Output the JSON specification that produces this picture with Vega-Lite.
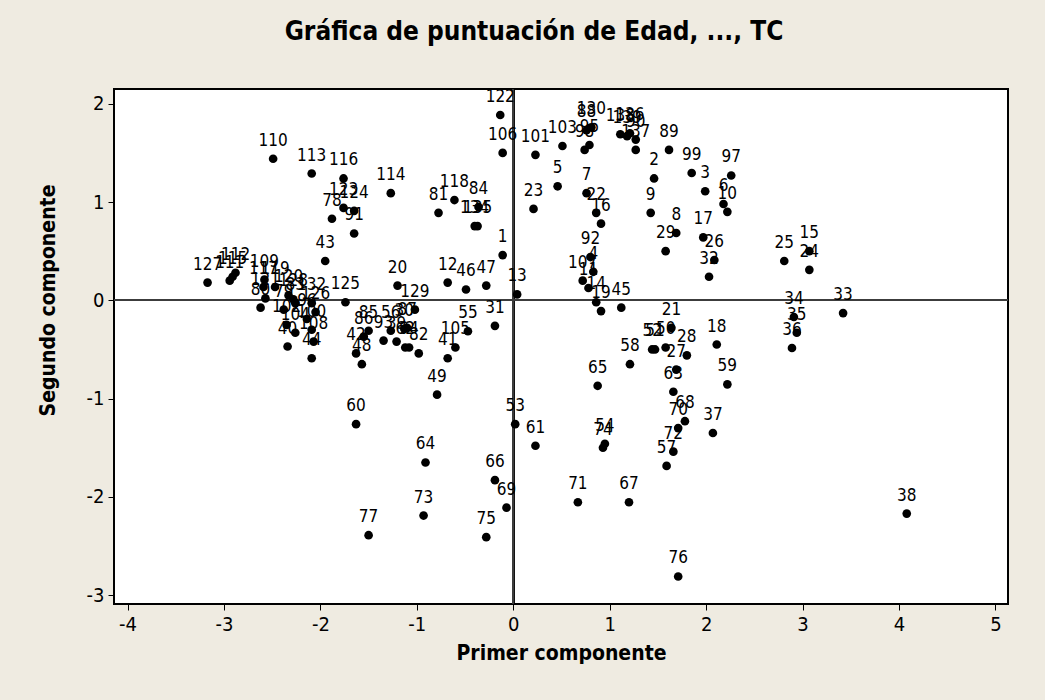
{
  "$schema": "https://vega.github.io/schema/vega-lite/v6.json",
  "width": 894,
  "height": 515,
  "autosize": {"type": "none"},
  "padding": {"left": 114, "top": 89, "right": 37, "bottom": 96},
  "background": "#EFEBE1",
  "title": {
    "text": "Gráfica de puntuación de Edad, ..., TC",
    "font": "DejaVu Sans Condensed, DejaVu Sans",
    "fontSize": 26,
    "fontWeight": "bold",
    "color": "#000000",
    "anchor": "middle",
    "baseline": "alphabetic",
    "offset": 22,
    "dx": -27
  },
  "config": {
    "view": {"stroke": "#000000", "strokeWidth": 2, "fill": "#FFFFFF"},
    "axis": {
      "grid": false,
      "domain": false,
      "tickColor": "#000000",
      "tickSize": 6,
      "tickWidth": 1,
      "labelFont": "DejaVu Sans Condensed, DejaVu Sans",
      "labelFontSize": 20,
      "labelColor": "#000000",
      "labelExpr": "'' + datum.value",
      "titleFont": "DejaVu Sans Condensed, DejaVu Sans",
      "titleFontSize": 21,
      "titleFontWeight": "bold",
      "titleColor": "#000000"
    }
  },
  "data": {
    "values": [
      {"id": "110", "x": -2.49, "y": 1.44},
      {"id": "113", "x": -2.09, "y": 1.29},
      {"id": "116", "x": -1.76, "y": 1.24},
      {"id": "114", "x": -1.27, "y": 1.09},
      {"id": "123", "x": -1.76, "y": 0.94},
      {"id": "124", "x": -1.65, "y": 0.91},
      {"id": "78", "x": -1.88, "y": 0.83},
      {"id": "91", "x": -1.65, "y": 0.68},
      {"id": "43", "x": -1.95, "y": 0.40},
      {"id": "127", "x": -3.17, "y": 0.18},
      {"id": "111", "x": -2.94, "y": 0.20},
      {"id": "115", "x": -2.91, "y": 0.24},
      {"id": "112", "x": -2.88, "y": 0.28},
      {"id": "109", "x": -2.58, "y": 0.21},
      {"id": "117", "x": -2.59, "y": 0.135},
      {"id": "121", "x": -2.57, "y": 0.02},
      {"id": "80", "x": -2.62, "y": -0.075},
      {"id": "119", "x": -2.47, "y": 0.135},
      {"id": "120", "x": -2.33, "y": 0.05},
      {"id": "128", "x": -2.28, "y": 0.01},
      {"id": "83", "x": -2.26, "y": -0.03},
      {"id": "79", "x": -2.38, "y": -0.095},
      {"id": "132", "x": -2.09, "y": -0.03},
      {"id": "126", "x": -2.05, "y": -0.12},
      {"id": "102", "x": -2.35, "y": -0.25},
      {"id": "104", "x": -2.26, "y": -0.33},
      {"id": "96", "x": -2.14, "y": -0.19},
      {"id": "100", "x": -2.09, "y": -0.30},
      {"id": "108", "x": -2.07, "y": -0.42},
      {"id": "40", "x": -2.34, "y": -0.47},
      {"id": "44", "x": -2.09, "y": -0.59},
      {"id": "125", "x": -1.74, "y": -0.02},
      {"id": "20", "x": -1.20, "y": 0.15},
      {"id": "129", "x": -1.02, "y": -0.095},
      {"id": "85", "x": -1.50, "y": -0.31},
      {"id": "86", "x": -1.55, "y": -0.37},
      {"id": "42", "x": -1.63, "y": -0.54},
      {"id": "48", "x": -1.57, "y": -0.65},
      {"id": "93", "x": -1.345, "y": -0.41},
      {"id": "56", "x": -1.27, "y": -0.31},
      {"id": "39", "x": -1.21, "y": -0.42},
      {"id": "30", "x": -1.13, "y": -0.29},
      {"id": "62", "x": -1.12, "y": -0.48},
      {"id": "87", "x": -1.10, "y": -0.28},
      {"id": "94", "x": -1.08, "y": -0.48},
      {"id": "82", "x": -0.98, "y": -0.54},
      {"id": "12", "x": -0.68, "y": 0.18},
      {"id": "46", "x": -0.49, "y": 0.11},
      {"id": "47", "x": -0.28, "y": 0.15},
      {"id": "1", "x": -0.11, "y": 0.46},
      {"id": "13", "x": 0.04, "y": 0.06},
      {"id": "31", "x": -0.19, "y": -0.26},
      {"id": "55", "x": -0.47, "y": -0.315},
      {"id": "105", "x": -0.60, "y": -0.48},
      {"id": "41", "x": -0.68, "y": -0.59},
      {"id": "49", "x": -0.79, "y": -0.96},
      {"id": "81", "x": -0.775, "y": 0.89},
      {"id": "118", "x": -0.61, "y": 1.02},
      {"id": "84", "x": -0.36, "y": 0.95},
      {"id": "134", "x": -0.40, "y": 0.755},
      {"id": "135", "x": -0.37, "y": 0.755},
      {"id": "122", "x": -0.135, "y": 1.885},
      {"id": "106", "x": -0.11, "y": 1.50},
      {"id": "60", "x": -1.63, "y": -1.26},
      {"id": "77", "x": -1.50, "y": -2.39},
      {"id": "64", "x": -0.91, "y": -1.65},
      {"id": "66", "x": -0.19, "y": -1.83},
      {"id": "69", "x": -0.07, "y": -2.11},
      {"id": "73", "x": -0.93, "y": -2.19},
      {"id": "75", "x": -0.28, "y": -2.41},
      {"id": "53", "x": 0.02, "y": -1.26},
      {"id": "61", "x": 0.23, "y": -1.48},
      {"id": "101", "x": 0.23, "y": 1.48},
      {"id": "103", "x": 0.51, "y": 1.57},
      {"id": "98", "x": 0.74, "y": 1.53},
      {"id": "95", "x": 0.79, "y": 1.58},
      {"id": "130", "x": 0.81, "y": 1.76},
      {"id": "88", "x": 0.76, "y": 1.73},
      {"id": "138", "x": 1.11, "y": 1.69},
      {"id": "139", "x": 1.18, "y": 1.67},
      {"id": "136", "x": 1.21, "y": 1.70},
      {"id": "90", "x": 1.27, "y": 1.635},
      {"id": "137", "x": 1.27, "y": 1.53},
      {"id": "89", "x": 1.615, "y": 1.53},
      {"id": "2", "x": 1.46, "y": 1.24},
      {"id": "99", "x": 1.85, "y": 1.295},
      {"id": "3", "x": 1.99, "y": 1.11},
      {"id": "97", "x": 2.26, "y": 1.27},
      {"id": "6", "x": 2.18, "y": 0.98},
      {"id": "10", "x": 2.22, "y": 0.90},
      {"id": "5", "x": 0.46, "y": 1.16},
      {"id": "23", "x": 0.21, "y": 0.93},
      {"id": "7", "x": 0.76, "y": 1.09},
      {"id": "22", "x": 0.86, "y": 0.89},
      {"id": "16", "x": 0.91, "y": 0.78},
      {"id": "9", "x": 1.425, "y": 0.89},
      {"id": "8", "x": 1.69, "y": 0.685},
      {"id": "29", "x": 1.58, "y": 0.50},
      {"id": "17", "x": 1.97, "y": 0.64},
      {"id": "26", "x": 2.085, "y": 0.41},
      {"id": "32", "x": 2.03, "y": 0.24},
      {"id": "25", "x": 2.81, "y": 0.40},
      {"id": "15", "x": 3.07, "y": 0.50},
      {"id": "24", "x": 3.07, "y": 0.31},
      {"id": "34", "x": 2.91, "y": -0.17},
      {"id": "35", "x": 2.94, "y": -0.33},
      {"id": "36", "x": 2.89, "y": -0.485},
      {"id": "33", "x": 3.42, "y": -0.13},
      {"id": "18", "x": 2.11, "y": -0.45},
      {"id": "59", "x": 2.22, "y": -0.855},
      {"id": "37", "x": 2.07, "y": -1.35},
      {"id": "38", "x": 4.08, "y": -2.17},
      {"id": "92", "x": 0.80, "y": 0.44},
      {"id": "4", "x": 0.83, "y": 0.29},
      {"id": "107", "x": 0.72, "y": 0.20},
      {"id": "11", "x": 0.78, "y": 0.125},
      {"id": "14", "x": 0.86, "y": -0.02},
      {"id": "19", "x": 0.91, "y": -0.11},
      {"id": "45", "x": 1.12, "y": -0.075},
      {"id": "21", "x": 1.64, "y": -0.28},
      {"id": "52", "x": 1.44, "y": -0.50},
      {"id": "51", "x": 1.47, "y": -0.50},
      {"id": "50", "x": 1.58, "y": -0.48},
      {"id": "28", "x": 1.80, "y": -0.56},
      {"id": "27", "x": 1.69, "y": -0.705},
      {"id": "58", "x": 1.21, "y": -0.65},
      {"id": "65", "x": 0.875, "y": -0.87},
      {"id": "63", "x": 1.66, "y": -0.93},
      {"id": "68", "x": 1.78, "y": -1.23},
      {"id": "70", "x": 1.71, "y": -1.30},
      {"id": "72", "x": 1.66, "y": -1.54},
      {"id": "57", "x": 1.59, "y": -1.685},
      {"id": "54", "x": 0.95, "y": -1.46},
      {"id": "74", "x": 0.93, "y": -1.50},
      {"id": "71", "x": 0.67, "y": -2.055},
      {"id": "67", "x": 1.20, "y": -2.055},
      {"id": "76", "x": 1.71, "y": -2.81}
    ]
  },
  "encoding": {
    "x": {
      "field": "x", "type": "quantitative",
      "scale": {"domain": [-4.14, 5.13], "nice": false, "zero": false},
      "axis": {"values": [-4, -3, -2, -1, 0, 1, 2, 3, 4, 5], "title": "Primer componente", "labelPadding": 4, "titlePadding": 8}
    },
    "y": {
      "field": "y", "type": "quantitative",
      "scale": {"domain": [-3.09, 2.15], "nice": false, "zero": false},
      "axis": {"values": [-3, -2, -1, 0, 1, 2], "title": "Segundo componente", "labelPadding": 4, "titleX": -66, "titleY": 211, "titleBaseline": "middle"}
    }
  },
  "layer": [
    {"mark": {"type": "rule", "color": "#3C3C3C", "strokeWidth": 1.5}, "encoding": {"x": {"datum": 0}, "y": null}},
    {"mark": {"type": "rule", "color": "#3C3C3C", "strokeWidth": 1.5}, "encoding": {"y": {"datum": 0}, "x": null}},
    {"mark": {"type": "circle", "size": 75, "color": "#000000", "opacity": 1}},
    {
      "mark": {"type": "text", "dy": -18, "fontSize": 17, "font": "DejaVu Sans Condensed, DejaVu Sans", "color": "#000000", "baseline": "middle"},
      "encoding": {"text": {"field": "id"}}
    }
  ]
}
